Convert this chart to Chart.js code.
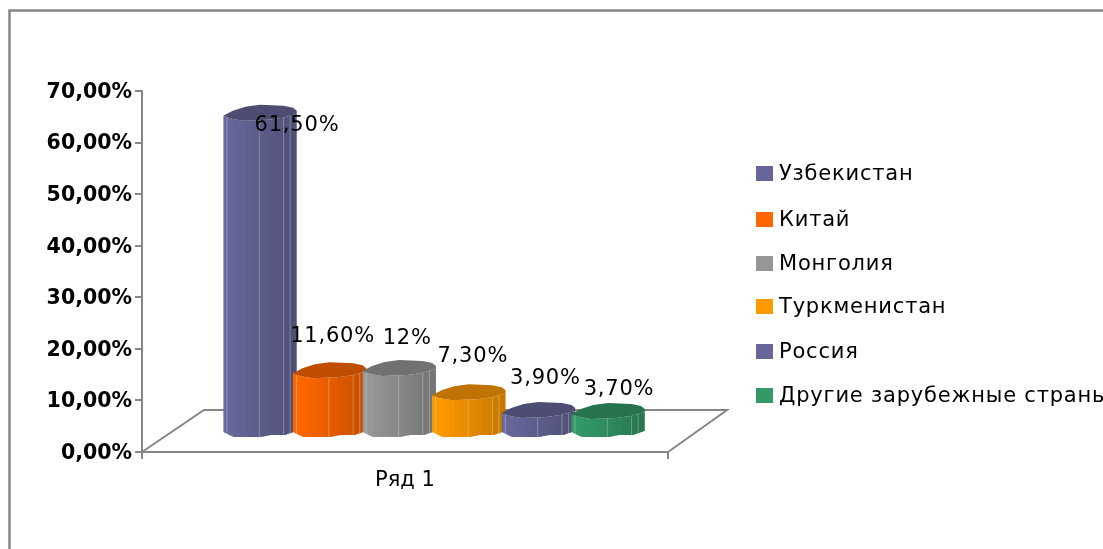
<!DOCTYPE html>
<html>
<head>
<meta charset="utf-8">
<script src="https://cdn.jsdelivr.net/npm/chart.js@4/dist/chart.umd.min.js"></script>
<style>html,body{margin:0;padding:0;background:#fff;overflow:hidden}canvas{display:block}</style>
</head>
<body>
<canvas id="c" width="1103" height="549"></canvas>
<script>
const categories = ['Ряд 1'];
const countries = ['Узбекистан','Китай','Монголия','Туркменистан','Россия','Другие зарубежные страны'];
const values = [61.5, 11.6, 12, 7.3, 3.9, 3.7];
const valueLabels = ['61,50%','11,60%','12%','7,30%','3,90%','3,70%'];
const colors = [[102,102,153],[255,102,0],[150,150,150],[255,153,0],[102,102,153],[51,153,102]];
const labelOffsets = [[66,-9],[32,-56],[37,-52],[33,-58],[36,-53],[40,-43]];
const legendRows = [173,219,263,306,351,395];

const FONT = '"DejaVu Sans"';
const AXIS = '#868686';
const SHIFT_X = 29, SHIFT_Y = -15;
const rgb = (c, k) => `rgb(${Math.round(c[0]*k)},${Math.round(c[1]*k)},${Math.round(c[2]*k)})`;

// outline of the faceted cylinder, in fractions of bar width / px relative to the top or base
const frontTop = [[0,-4],[.11,-1],[.27,1],[.61,0],[.81,-2],[1,-6]];
const backTop  = [[1,-9],[.95,-12],[.82,-14],[.5,-15],[.3,-13],[.13,-9]];
const bottom   = [[1,-5],[.84,-1],[.65,-1],[.51,1],[.14,1],[0,-4]];

function drawCylinder(chart, index) {
  const {ctx} = chart;
  const el = chart.getDatasetMeta(index).data[0];
  const col = colors[index];
  const w = el.width, x0 = el.x - w/2 + SHIFT_X, top = el.y + SHIFT_Y, base = el.base + SHIFT_Y;
  ctx.save();
  ctx.beginPath();
  frontTop.forEach(([u,v],i)=> i ? ctx.lineTo(x0+u*w, top+v) : ctx.moveTo(x0+u*w, top+v));
  bottom.forEach(([u,v])=> ctx.lineTo(x0+u*w, base+v));
  ctx.closePath();
  ctx.save(); ctx.clip();
  const n = 13;
  for (let i=0;i<n;i++){
    ctx.fillStyle = rgb(col, 1.02 - 0.24*i/(n-1));
    ctx.fillRect(x0+i*w/n, top-20, w/n+1, base-top+30);
  }
  ctx.strokeStyle = 'rgba(255,255,255,.28)'; ctx.lineWidth = 1;
  [.05,.49,.82,.91].forEach(u=>{
    ctx.beginPath(); ctx.moveTo(x0+u*w, top-20); ctx.lineTo(x0+u*w, base+5); ctx.stroke();
  });
  ctx.restore();
  ctx.fillStyle = rgb(col, .75);
  ctx.beginPath();
  frontTop.concat(backTop).forEach(([u,v],i)=> i ? ctx.lineTo(x0+u*w, top+v) : ctx.moveTo(x0+u*w, top+v));
  ctx.closePath(); ctx.fill();
  ctx.restore();
}

const cylinder = {
  id: 'cylinder',
  beforeDraw(chart) {
    chart.scales.y.getLabelItems().forEach(it => { it.options.translation[1] += 1.5; });
  },
  beforeDatasetsDraw(chart) {
    const {ctx, chartArea: a} = chart;
    ctx.save();
    ctx.strokeStyle = AXIS; ctx.lineWidth = 2;
    ctx.beginPath();
    ctx.moveTo(a.left, a.bottom);
    ctx.lineTo(a.left + 62, a.bottom - 42);
    ctx.lineTo(a.right + 59, a.bottom - 42);
    ctx.lineTo(a.right, a.bottom);
    ctx.stroke();
    ctx.restore();
    // left to right, so that each cylinder overlaps the one before it
    chart.data.datasets.forEach((d,i)=> drawCylinder(chart,i));
  },
  beforeDatasetDraw() { return false; },
  afterDatasetsDraw(chart) {
    const {ctx} = chart;
    ctx.save();
    ctx.fillStyle = '#000';
    ctx.font = `21px ${FONT}`;
    ctx.letterSpacing = '0.8px';
    ctx.textAlign = 'center'; ctx.textBaseline = 'middle';
    chart.data.datasets.forEach((d,i)=>{
      const el = chart.getDatasetMeta(i).data[0];
      ctx.fillText(valueLabels[i], el.x + labelOffsets[i][0], el.y + labelOffsets[i][1]);
    });
    // legend
    ctx.textAlign = 'left';
    chart.data.datasets.forEach((d,i)=>{
      const y = legendRows[i];
      ctx.fillStyle = rgb(colors[i],1);
      ctx.fillRect(756, y-7, 17, 15);
      ctx.fillStyle = '#000';
      ctx.fillText(d.label, 779, y+2);
    });
    ctx.letterSpacing = '0px';
    // frame
    ctx.strokeStyle = AXIS; ctx.lineWidth = 2.5;
    ctx.beginPath(); ctx.moveTo(9.5,549); ctx.lineTo(9.5,10.5); ctx.lineTo(1103,10.5); ctx.stroke();
    ctx.restore();
  }
};

new Chart(document.getElementById('c'), {
  type: 'bar',
  data: {
    labels: categories,
    datasets: countries.map((name,i)=>({
      label: name,
      data: [values[i]],
      backgroundColor: rgb(colors[i],1),
      categoryPercentage: 0.794,
      barPercentage: 1.056
    }))
  },
  plugins: [cylinder],
  options: {
    responsive: false,
    animation: false,
    layout: {padding: {left:0, top:91, right:435, bottom:0}},
    plugins: {legend:{display:false}, tooltip:{enabled:false}, title:{display:false}},
    scales: {
      y: {
        min: 0, max: 70,
        ticks: {
          stepSize: 10,
          color:'#000',
          font:{family:FONT, size:20.5, weight:'bold'},
          padding:3,
          callback: v => v.toFixed(2).replace('.',',') + '%'
        },
        grid: {drawOnChartArea:false, drawTicks:true, tickLength:7, color:AXIS, lineWidth:2},
        border: {color:AXIS, width:2},
        afterFit(s){ s.width = 142; }
      },
      x: {
        ticks: {color:'#000', font:{family:FONT, size:21}, padding:9},
        grid: {drawOnChartArea:false, drawTicks:true, tickLength:7, color:AXIS, lineWidth:2, offset:true},
        border: {color:AXIS, width:2},
        afterFit(s){ s.height = 97; }
      }
    }
  }
});
</script>
</body>
</html>
